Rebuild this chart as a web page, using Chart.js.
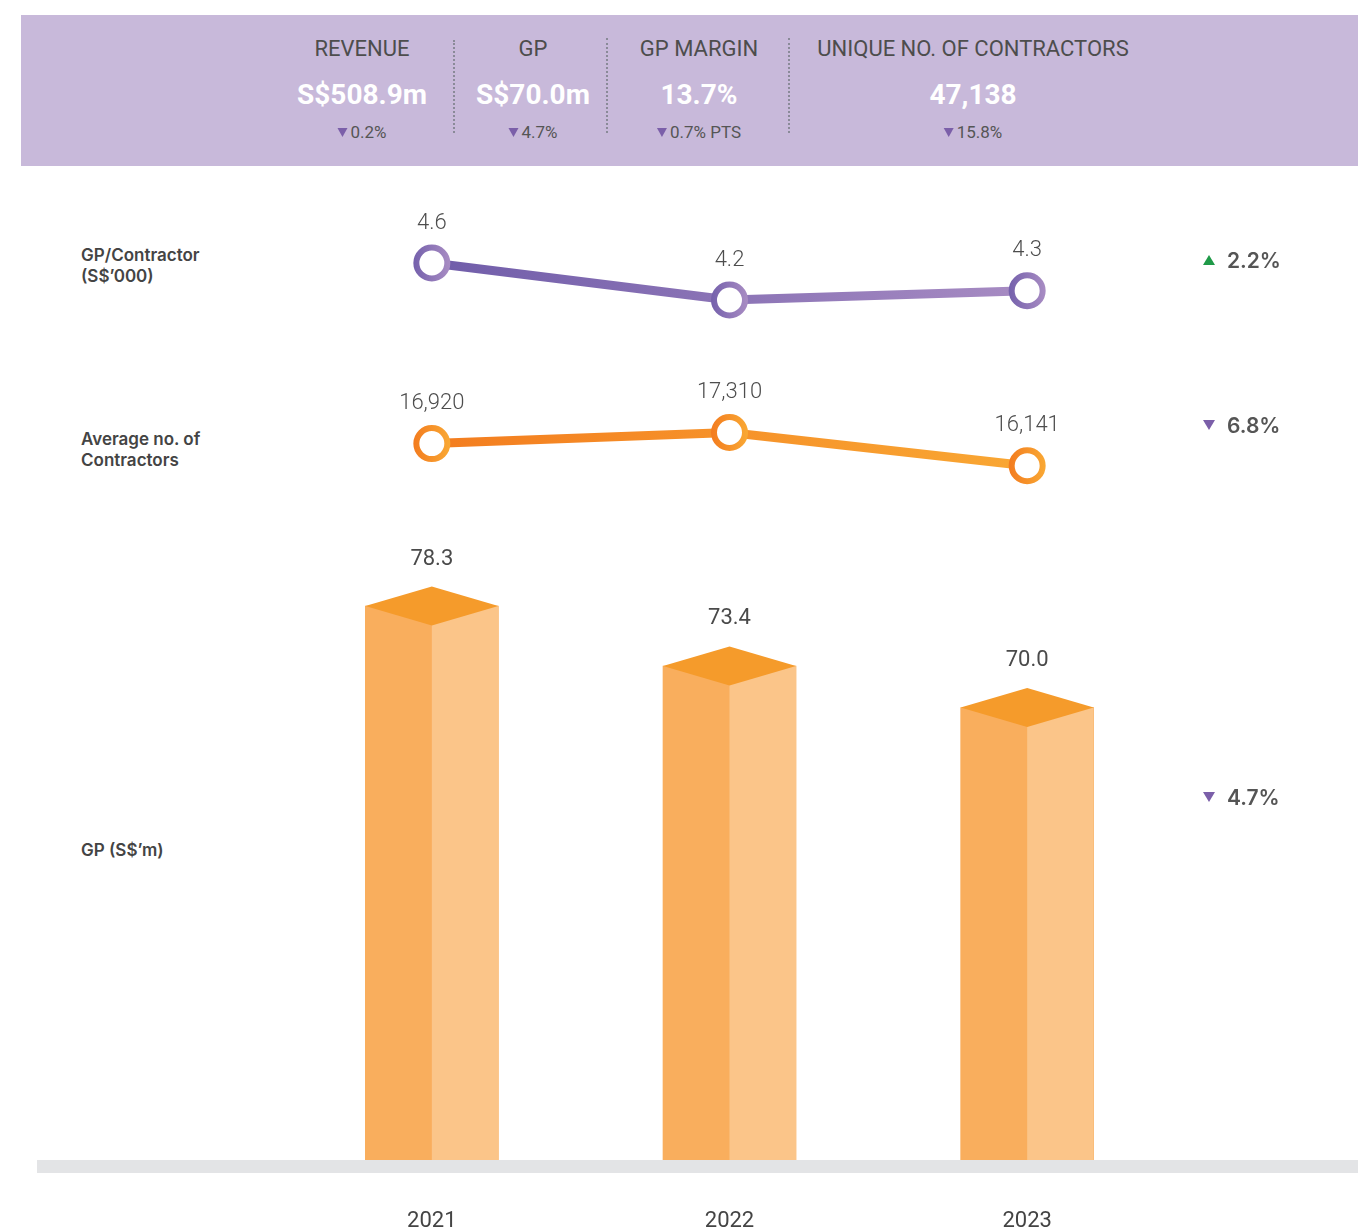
<!DOCTYPE html>
<html>
<head>
<meta charset="utf-8">
<script src="https://cdn.jsdelivr.net/npm/chart.js@4"></script>
<style>
  body { margin: 0; width: 1358px; height: 1232px; background: #fff; position: relative; overflow: hidden; font-family: Roboto, sans-serif; }
  .abs { position: absolute; }
  #header { left: 21px; top: 15px; width: 1337px; height: 151px; background: #c8b9da; }
  .kpi { position: absolute; transform: translateX(-50%); text-align: center; white-space: nowrap; }
  .kpi .lab { position: absolute; left: 50%; transform: translateX(-50%); top: 0; font-size: 22px; color: #4d4d4d; }
  .kpi .val { position: absolute; left: 50%; transform: translateX(-50%); top: 42px; font-size: 28px; font-weight: 700; color: #fff; }
  .kpi .chg { position: absolute; left: 50%; transform: translateX(-50%); top: 86px; font-size: 17px; color: #555; }
  .tri-down { display: inline-block; width: 0; height: 0; border-left: 5px solid transparent; border-right: 5px solid transparent; border-top: 9px solid #7b5fa9; margin-right: 3px; vertical-align: 1px; }
  .sep { position: absolute; width: 0; border-left: 2px dotted #8a8a98; }
  .side { position: absolute; left: 81px; font-family: Inter, sans-serif; font-weight: 600; font-size: 17px; line-height: 21px; color: #444; }
  .chgR { position: absolute; left: 1203px; font-family: Inter, sans-serif; font-weight: 600; font-size: 21px; color: #555; white-space: nowrap; }
  .chgR .t { display: inline-block; width: 0; height: 0; border-left: 6px solid transparent; border-right: 6px solid transparent; margin-right: 12px; vertical-align: 3px; }
  .chgR .up { border-bottom: 10px solid #1f9a48; }
  .chgR .down { border-top: 10px solid #7b5fa9; }
  canvas { position: absolute; left: 0; }
</style>
</head>
<body>
<div id="header" class="abs"></div>
<div class="abs" style="left:37px;top:1160px;width:1321px;height:13px;background:#e3e4e6;"></div>

<div class="side" style="top:245px;">GP/Contractor<br>(S$’000)</div>
<div class="side" style="top:429px;">Average no. of<br>Contractors</div>
<div class="side" style="top:840px;">GP (S$’m)</div>

<div style="position:absolute;left:0;top:190px;width:1358px;height:150px;"><canvas id="c1"></canvas></div>
<div style="position:absolute;left:0;top:370px;width:1358px;height:150px;"><canvas id="c2"></canvas></div>
<div style="position:absolute;left:0;top:520px;width:1358px;height:712px;"><canvas id="c3"></canvas></div>

<script>
// data
const years = ["2021", "2022", "2023"];
const gpPerContractor = [4.6, 4.2, 4.3];
const avgContractors = [16920, 17310, 16141];
const gpValues = [78.3, 73.4, 70.0];

const kpiLabels = ["REVENUE", "GP", "GP MARGIN", "UNIQUE NO. OF CONTRACTORS"];
const kpiValues = ["S$508.9m", "S$70.0m", "13.7%", "47,138"];
const kpiChanges = ["0.2%", "4.7%", "0.7% PTS", "15.8%"];

const rowChangeText = ["2.2%", "6.8%", "4.7%"];
const rowChangeUp = [true, false, false];

// header
const kpiX = [362, 533, 699, 973];
const header = document.getElementById("header");
kpiLabels.forEach((lab, i) => {
    const d = document.createElement("div");
    d.className = "kpi";
    d.style.left = (kpiX[i] - 21) + "px";
    d.style.top = "21px";
    d.innerHTML = '<div class="lab">' + lab + '</div><div class="val">' + kpiValues[i] +
        '</div><div class="chg"><span class="tri-down"></span>' + kpiChanges[i] + '</div>';
    header.appendChild(d);
});
[[453, 40], [606, 38], [788, 38]].forEach(s => {
    const d = document.createElement("div");
    d.className = "sep";
    d.style.left = (s[0] - 21) + "px";
    d.style.top = (s[1] - 15) + "px";
    d.style.height = (133 - s[1]) + "px";
    header.appendChild(d);
});

// right side changes
const rowY = [248, 413, 785];
rowChangeText.forEach((t, i) => {
    const d = document.createElement("div");
    d.className = "chgR";
    d.style.top = rowY[i] + "px";
    d.innerHTML = '<span class="t ' + (rowChangeUp[i] ? "up" : "down") + '"></span>' + t;
    document.body.appendChild(d);
});

const pad = { left: 283, right: 182, top: 0, bottom: 0 };

function labelPlugin(format, font, color, offset) {
    return {
        id: "valueLabels",
        afterDatasetsDraw(chart) {
            const ctx = chart.ctx;
            const meta = chart.getDatasetMeta(0);
            const data = chart.data.datasets[0].data;
            ctx.save();
            ctx.font = font;
            ctx.fillStyle = color;
            ctx.textAlign = "center";
            ctx.textBaseline = "middle";
            meta.data.forEach((el, i) => ctx.fillText(format(data[i]), el.x, el.y - offset));
            ctx.restore();
        }
    };
}

function lineGradient(c0, c1) {
    return (c) => {
        const area = c.chart.chartArea;
        if (!area) return c0;
        const g = c.chart.ctx.createLinearGradient(area.left + 140, 0, area.right - 140, 0);
        g.addColorStop(0, c0);
        g.addColorStop(1, c1);
        return g;
    };
}

function pointGradient(c0, c1) {
    return (c) => {
        const x = c.chart.scales.x ? c.chart.scales.x.getPixelForValue(c.dataIndex) : null;
        if (x == null || isNaN(x)) return c0;
        const g = c.chart.ctx.createLinearGradient(x - 18, 0, x + 18, 0);
        g.addColorStop(0, c0);
        g.addColorStop(1, c1);
        return g;
    };
}

function lineChart(id, values, min, max, cLine0, cLine1, cPt0, cPt1, format) {
    new Chart(document.getElementById(id), {
        type: "line",
        data: {
            labels: years,
            datasets: [{
                data: values,
                borderColor: lineGradient(cLine0, cLine1),
                borderWidth: 9,
                pointRadius: 15.5,
                pointBorderWidth: 6,
                pointBackgroundColor: "#fff",
                pointBorderColor: pointGradient(cPt0, cPt1),
                pointHoverRadius: 15.5,
                tension: 0,
                clip: false
            }]
        },
        options: {
            responsive: true,
            maintainAspectRatio: false,
            animation: false,
            layout: { padding: pad, autoPadding: false },
            plugins: { legend: { display: false }, tooltip: { enabled: false } },
            scales: {
                x: { display: false, offset: true },
                y: { display: false, min: min, max: max }
            }
        },
        plugins: [labelPlugin(format, "300 22px Roboto", "#4d4d4d", 40)]
    });
}

lineChart("c1", gpPerContractor, 3.768, 5.389, "#6f5ca9", "#a88cc3", "#7561ac", "#a88cc3", v => v.toFixed(1));
lineChart("c2", avgContractors, 14232, 19510, "#f37c1f", "#f9a834", "#f37c1f", "#f9a834", v => v.toLocaleString("en-US"));

// 3D bars: library draws the left face, plugin adds right face and top
const bar3d = {
    id: "bar3d",
    afterDatasetsDraw(chart) {
        const ctx = chart.ctx;
        const meta = chart.getDatasetMeta(0);
        const bottom = chart.chartArea.bottom;
        ctx.save();
        meta.data.forEach(el => {
            const half = el.width / 2;
            ctx.fillStyle = "#fbc589";
            ctx.fillRect(el.x, el.y, half, bottom - el.y);
            ctx.fillStyle = "#f59b2b";
            ctx.beginPath();
            ctx.moveTo(el.x - half, el.y);
            ctx.lineTo(el.x, el.y - 19.5);
            ctx.lineTo(el.x + half, el.y);
            ctx.lineTo(el.x, el.y + 19.5);
            ctx.closePath();
            ctx.fill();
        });
        // year labels under the base band
        const xs = chart.scales.x;
        ctx.font = "400 22px Roboto";
        ctx.fillStyle = "#444";
        ctx.textAlign = "center";
        ctx.textBaseline = "middle";
        years.forEach((y, i) => ctx.fillText(y, xs.getPixelForValue(i), bottom + 61));
        ctx.restore();
    }
};

new Chart(document.getElementById("c3"), {
    type: "bar",
    data: {
        labels: years,
        datasets: [{
            data: gpValues,
            backgroundColor: "#f9ae5d",
            borderWidth: 0,
            barThickness: 133
        }]
    },
    options: {
        responsive: true,
        maintainAspectRatio: false,
        animation: false,
        layout: { padding: { left: 283, right: 182, top: 20, bottom: 72 } },
        plugins: { legend: { display: false }, tooltip: { enabled: false } },
        scales: {
            x: { display: false },
            y: { display: false, min: 33, max: 83.7 }
        }
    },
    plugins: [bar3d, labelPlugin(v => v.toFixed(1), "400 22px Roboto", "#4a4a4a", 47)]
});
</script>
</body>
</html>
